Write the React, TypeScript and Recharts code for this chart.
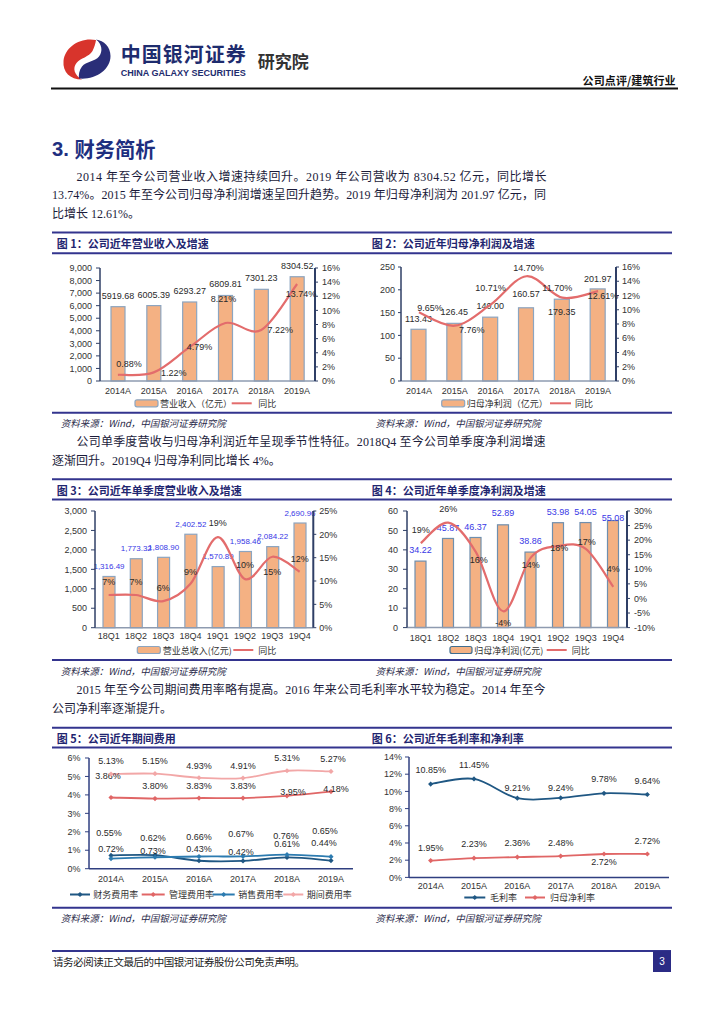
import React from 'react';
import { ComposedChart, Bar, Line, XAxis, YAxis } from 'recharts';

// ---------------- data ----------------
const years = ['2014A', '2015A', '2016A', '2017A', '2018A', '2019A'];
const quarters = ['18Q1', '18Q2', '18Q3', '18Q4', '19Q1', '19Q2', '19Q3', '19Q4'];

const revenue = [5919.68, 6005.39, 6293.27, 6809.81, 7301.23, 8304.52];
const revenueYoy = [0.88, 1.22, 4.79, 8.21, 7.22, 13.74];

const netProfit = [113.43, 126.45, 140.0, 160.57, 179.35, 201.97];
const netProfitYoy = [9.65, 7.76, 10.71, 14.7, 11.7, 12.61];

const qRevenue = [1316.49, 1773.32, 1808.9, 2402.52, 1570.89, 1958.46, 2084.22, 2690.96];
const qRevenueYoy = [7.0, 7.0, 5.7, 9.4, 19.4, 10.4, 15.2, 12.0];

const qProfit = [34.22, 45.87, 46.37, 52.89, 38.86, 53.98, 54.05, 55.08];
const qProfitYoy = [19, 26, 16, -4.4, 14, 18, 17, 4];

const financeRate = [0.72, 0.73, 0.43, 0.42, 0.61, 0.44];
const adminRate = [3.86, 3.8, 3.83, 3.83, 3.95, 4.18];
const salesRate = [0.55, 0.62, 0.66, 0.67, 0.76, 0.65];
const periodRate = [5.13, 5.15, 4.93, 4.91, 5.31, 5.27];

const grossMargin = [10.85, 11.45, 9.21, 9.24, 9.78, 9.64];
const netMargin = [1.95, 2.23, 2.36, 2.48, 2.72, 2.72];

// tick labels
const revTicks = [0, 1000, 2000, 3000, 4000, 5000, 6000, 7000, 8000, 9000];
const pct16Ticks = [0, 2, 4, 6, 8, 10, 12, 14, 16];
const npTicks = [0, 50, 100, 150, 200, 250];
const qRevTicks = [0, 500, 1000, 1500, 2000, 2500, 3000];
const pct25Ticks = [0, 5, 10, 15, 20, 25];
const qpTicks = [0, 10, 20, 30, 40, 50, 60];
const pct30Ticks = [-10, -5, 0, 5, 10, 15, 20, 25, 30];
const rate6Ticks = [0, 1, 2, 3, 4, 5, 6];
const rate14Ticks = [0, 2, 4, 6, 8, 10, 12, 14];

// label placements (dx, dy from the mark)
const c1BarDy = [-11, -11, -11, -11, -11, -11];
const c1LineOff = [[11, -11], [20, 1], [10, 0], [-2, -24], [19, 0], [4, 10]];
const c2BarDy = [-10, -11, -11, -14, 13, -10];
const c2LineOff = [[11, -4], [17, 4], [0, -17], [2, -8], [-5, -10], [5, 5]];
const c3BarDy = [-10, -10, -10, -10, -10, -10, -10, -10];
const c3LineOff = [[0, -13], [0, -13], [0, -13], [0, -12], [0, -14], [0, -14], [0, 15], [0, -13]];
const c4BarDy = [-11, -10, -10, -12, -11, -11, -11, -3];
const c4LineOff = [[0, -13], [0, -14], [3, 8], [0, 12], [0, 7], [1, 2], [1, -7], [0, -18]];
const c5PeriodOff = [[0, -13], [0, -13], [0, -12], [0, -12], [0, -13], [2, -12]];
const c5AdminOff = [[-3, -21], [0, -13], [0, -12], [0, -12], [6, -4], [5, -3]];
const c5SalesOff = [[-2, -26], [-2, -19], [0, -20], [-2, -22], [-1, -19], [-6, -26]];
const c5FinanceOff = [[0, -6], [-2, -4], [0, -12], [-2, -9], [0, -13], [-7, -18]];
const c6GrossOff = [[0, -14], [0, -14], [0, -10], [0, -10], [0, -14], [0, -13]];
const c6NetOff = [[0, -13], [0, -14], [0, -14], [0, -13], [0, 8], [0, -13]];

// ---------------- styles ----------------
const RULE = '#33348E';
const TITLE = '#1F2670';
const BAR_FILL = '#F4B183';
const BAR_STROKE = '#8CA5C0';
const LINE_RED = '#E36C6C';
const AXIS = '#2F3F66';
const XAXIS = '#8E9BB0';
const LABEL_BLUE = '#3838E6';
const TXT = '#2a2a2a';
const FA = "'Liberation Sans', Arial, sans-serif";
const FC = "'Noto Sans CJK SC', sans-serif";
const FB = "'Liberation Serif', 'Noto Sans CJK SC', serif";

const fmtComma = (v: number) => v.toLocaleString('en-US');
const fmt2 = (v: number) => v.toFixed(2);
const fmt2c = (v: number) => v.toLocaleString('en-US', { minimumFractionDigits: 2, maximumFractionDigits: 2 });
const pct = (v: number) => `${v}%`;
const pct2 = (v: number) => `${v.toFixed(2)}%`;
const pct0 = (v: number) => `${Math.round(v)}%`;

// Excel-like smooth line (Catmull-Rom)
function catmullRom(context: any) {
  let pts: number[][] = [];
  return {
    areaStart() {},
    areaEnd() {},
    lineStart() {
      pts = [];
    },
    point(x: number, y: number) {
      pts.push([+x, +y]);
    },
    lineEnd() {
      const n = pts.length;
      if (!n) return;
      context.moveTo(pts[0][0], pts[0][1]);
      for (let i = 0; i < n - 1; i++) {
        const p0 = pts[Math.max(0, i - 1)];
        const p1 = pts[i];
        const p2 = pts[i + 1];
        const p3 = pts[Math.min(n - 1, i + 2)];
        context.bezierCurveTo(
          p1[0] + (p2[0] - p0[0]) / 6,
          p1[1] + (p2[1] - p0[1]) / 6,
          p2[0] - (p3[0] - p1[0]) / 6,
          p2[1] - (p3[1] - p1[1]) / 6,
          p2[0],
          p2[1]
        );
      }
    },
  };
}

type Plot = { x: number; y: number; w: number; h: number };

type DualProps = {
  plot: Plot;
  cats: string[];
  bars: number[];
  yoy: number[];
  leftTicks: number[];
  rightTicks: number[];
  leftFmt: (v: number) => string;
  barFmt: (v: number) => string;
  yoyFmt: (v: number) => string;
  barLabelColor: string;
  barLabelSize: number;
  barDy: number[];
  lineOff: number[][];
  barSize: number;
  barStroke: string;
  lt: number[]; // left tickSize, tickMargin
  rt: number[];
  xOff: number[];
};

function DualChart(p: DualProps) {
  const LW = 60;
  const RW = 50;
  const MT = 18;
  const XH = 22;
  const data = p.cats.map((c, i) => ({ c, b: p.bars[i], g: p.yoy[i] }));
  const barShape = (s: any) => {
    let idx = s.index;
    if (idx === undefined && s.payload) idx = p.cats.indexOf(s.payload.c);
    const v = p.bars[idx];
    return (
      <g>
        <rect x={s.x} y={s.y} width={s.width} height={s.height} fill={BAR_FILL} stroke={p.barStroke} strokeWidth={1.2} />
        <text
          x={s.x + s.width / 2}
          y={s.y + (p.barDy[idx] ?? -10)}
          textAnchor="middle"
          dominantBaseline="central"
          fontSize={p.barLabelSize}
          fontFamily={FA}
          fill={p.barLabelColor}
        >
          {p.barFmt(v)}
        </text>
      </g>
    );
  };
  const dot = (s: any) => {
    const idx = s.index;
    const off = p.lineOff[idx] || [0, -12];
    return (
      <text
        key={`lbl-${idx}`}
        x={s.cx + off[0]}
        y={s.cy + off[1]}
        textAnchor="middle"
        dominantBaseline="central"
        fontSize={9}
        fontFamily={FA}
        fill={TXT}
      >
        {p.yoyFmt(p.yoy[idx])}
      </text>
    );
  };
  const tickStyle = { fontSize: 9, fontFamily: FA, fill: '#333' };
  return (
    <div style={{ position: 'absolute', left: p.plot.x - LW, top: p.plot.y - MT }}>
      <ComposedChart
        width={p.plot.w + LW + RW}
        height={p.plot.h + MT + XH}
        data={data}
        margin={{ top: MT, right: 0, left: 0, bottom: 0 }}
      >
        <XAxis
          dataKey="c"
          height={XH}
          tickLine={false}
          axisLine={{ stroke: XAXIS, strokeWidth: 1.5 }}
          tick={tickStyle}
          tickSize={p.xOff[0]}
          tickMargin={p.xOff[1]}
          interval={0}
        />
        <YAxis
          yAxisId="l"
          width={LW}
          domain={[p.leftTicks[0], p.leftTicks[p.leftTicks.length - 1]]}
          ticks={p.leftTicks}
          tickFormatter={p.leftFmt}
          interval={0}
          axisLine={{ stroke: AXIS, strokeWidth: 1.5 }}
          tickLine={{ stroke: AXIS }}
          tickSize={p.lt[0]}
          tickMargin={p.lt[1]}
          tick={tickStyle}
        />
        <YAxis
          yAxisId="r"
          orientation="right"
          width={RW}
          domain={[p.rightTicks[0], p.rightTicks[p.rightTicks.length - 1]]}
          ticks={p.rightTicks}
          tickFormatter={pct}
          interval={0}
          axisLine={{ stroke: AXIS, strokeWidth: 2 }}
          tickLine={{ stroke: AXIS }}
          tickSize={p.rt[0]}
          tickMargin={p.rt[1]}
          tick={tickStyle}
        />
        <Bar yAxisId="l" dataKey="b" barSize={p.barSize} shape={barShape} isAnimationActive={false} />
        <Line
          yAxisId="r"
          dataKey="g"
          type={catmullRom as any}
          stroke={LINE_RED}
          strokeWidth={2.2}
          dot={dot}
          activeDot={false}
          isAnimationActive={false}
        />
      </ComposedChart>
    </div>
  );
}

type Series = { key: string; values: number[]; color: string; off: number[][] };

function MultiLine(p: {
  plot: Plot;
  cats: string[];
  series: Series[];
  ticks: number[];
  lt: number[];
  xOff: number[];
}) {
  const LW = 50;
  const RW = 20;
  const MT = 18;
  const XH = 22;
  const data = p.cats.map((c, i) => {
    const o: any = { c };
    p.series.forEach((s) => (o[s.key] = s.values[i]));
    return o;
  });
  const tickStyle = { fontSize: 9, fontFamily: FA, fill: '#333' };
  const mkDot = (s: Series) => (d: any) => {
    const idx = d.index;
    const off = s.off[idx] || [0, -12];
    const cx = d.cx;
    const cy = d.cy;
    return (
      <g key={`${s.key}-${idx}`}>
        <path d={`M${cx - 2.6},${cy} L${cx},${cy - 2.6} L${cx + 2.6},${cy} L${cx},${cy + 2.6} Z`} fill={s.color} />
        <text
          x={cx + off[0]}
          y={cy + off[1]}
          textAnchor="middle"
          dominantBaseline="central"
          fontSize={9}
          fontFamily={FA}
          fill={TXT}
        >
          {pct2(s.values[idx])}
        </text>
      </g>
    );
  };
  return (
    <div style={{ position: 'absolute', left: p.plot.x - LW, top: p.plot.y - MT }}>
      <ComposedChart
        width={p.plot.w + LW + RW}
        height={p.plot.h + MT + XH}
        data={data}
        margin={{ top: MT, right: RW, left: 0, bottom: 0 }}
      >
        <XAxis
          dataKey="c"
          scale="band"
          height={XH}
          tickLine={false}
          axisLine={{ stroke: '#2F3F80', strokeWidth: 1.5 }}
          tick={tickStyle}
          tickSize={p.xOff[0]}
          tickMargin={p.xOff[1]}
          interval={0}
        />
        <YAxis
          width={LW}
          domain={[p.ticks[0], p.ticks[p.ticks.length - 1]]}
          ticks={p.ticks}
          tickFormatter={pct}
          interval={0}
          axisLine={{ stroke: '#2F3F80', strokeWidth: 1.5 }}
          tickLine={{ stroke: '#2F3F80' }}
          tickSize={p.lt[0]}
          tickMargin={p.lt[1]}
          tick={tickStyle}
        />
        {p.series.map((s) => (
          <Line
            key={s.key}
            dataKey={s.key}
            type={catmullRom as any}
            stroke={s.color}
            strokeWidth={1.8}
            dot={mkDot(s)}
            activeDot={false}
            isAnimationActive={false}
          />
        ))}
      </ComposedChart>
    </div>
  );
}

// ---------------- page helpers ----------------
function Rule({ y, x1 = 52, x2 = 672, c = RULE, w = 2 }: any) {
  return <line x1={x1} x2={x2} y1={y} y2={y} stroke={c} strokeWidth={w} />;
}

function Txt({ x, y, size, children, fill = '#1b1b3a', family = FB, weight = 400, len, italic, anchor }: any) {
  return (
    <text
      x={x}
      y={y}
      fontSize={size}
      fontFamily={family}
      fontWeight={weight}
      fill={fill}
      dominantBaseline="central"
      textLength={len}
      lengthAdjust={len ? 'spacing' : undefined}
      fontStyle={italic ? 'italic' : undefined}
      textAnchor={anchor}
    >
      {children}
    </text>
  );
}

function LegBar({ x, w, y, stroke, label, tx }: any) {
  return (
    <g>
      <rect x={x} y={y - 3.5} width={w} height={7} rx={2} fill={BAR_FILL} stroke={stroke} strokeWidth={1.2} />
      <Txt x={tx} y={y} size={9} family={FC} fill="#333">{label}</Txt>
    </g>
  );
}

function LegLine({ x, w, y, color, label, tx, marker }: any) {
  const cx = x + w / 2;
  return (
    <g>
      <line x1={x} x2={x + w} y1={y} y2={y} stroke={color} strokeWidth={2} />
      {marker ? (
        <path d={`M${cx - 2.6},${y} L${cx},${y - 2.6} L${cx + 2.6},${y} L${cx},${y + 2.6} Z`} fill={color} />
      ) : null}
      <Txt x={tx} y={y} size={9} family={FC} fill="#333">{label}</Txt>
    </g>
  );
}

const SRC = '资料来源：Wind，中国银河证券研究院';

function PageArt() {
  return (
    <svg width={724} height={1024} style={{ position: 'absolute', left: 0, top: 0 }}>
      {/* logo */}
      <g transform="translate(62,38)">
        <path
          d="M34 2 C18 -1 3 9 1.5 23 C0.5 34 8 41.5 20 41.5 C12 37 10.5 30 14.5 25 C18.5 20 27 19 30.5 13 C32.5 9 33.5 5 34 2 Z"
          fill="#D8342C"
        />
        <path
          d="M17 40.5 C33 42 48.5 32 48.5 18 C48.5 9 42 2.5 34 1.5 C40 6 41 13 37 18.5 C33 23.5 24 23.5 20 28.5 C17 32.5 16.5 37 17 40.5 Z"
          fill="#2A2E78"
        />
      </g>
      <Txt x={120.7} y={53.5} size={20} weight={700} family={FC} fill="#1E2C6E" len={125}>中国银河证券</Txt>
      <text x={120.7} y={72.5} fontSize={9.5} fontWeight={700} fontFamily={FA} fill="#1E2C6E" dominantBaseline="central" textLength={125} lengthAdjust="spacingAndGlyphs">
        CHINA GALAXY SECURITIES
      </text>
      <Txt x={257.7} y={60} size={17} weight={700} family={FC} fill="#333" len={51}>研究院</Txt>
      <Txt x={582.6} y={80} size={11} weight={700} family={FC} fill="#111" len={93}>公司点评/建筑行业</Txt>
      <Rule y={88.5} x1={51} x2={678} c="#111" w={2} />

      {/* section heading */}
      <text x={52} y={148.3} fontSize={21} fontWeight={700} fill="#1E2F80" dominantBaseline="central" textLength={103.5} lengthAdjust="spacingAndGlyphs">
        <tspan fontFamily={FA}>3. </tspan>
        <tspan fontFamily={FC}>财务简析</tspan>
      </text>

      {/* paragraph 1 */}
      <Txt x={76.6} y={176.5} size={12} len={470}>2014 年至今公司营业收入增速持续回升。2019 年公司营收为 8304.52 亿元，同比增长</Txt>
      <Txt x={52} y={195.3} size={12} len={494}>13.74%。2015 年至今公司归母净利润增速呈回升趋势。2019 年归母净利润为 201.97 亿元，同</Txt>
      <Txt x={52} y={213.8} size={12}>比增长 12.61%。</Txt>

      {/* block 1 */}
      <Rule y={232.5} />
      <Txt x={56.7} y={243.3} size={11} weight={700} family={FC} fill={TITLE}>图 1：公司近年营业收入及增速</Txt>
      <Txt x={371.7} y={243.3} size={11} weight={700} family={FC} fill={TITLE}>图 2：公司近年归母净利润及增速</Txt>
      <Rule y={253.3} />
      <LegBar x={135} w={23} y={403.3} stroke={BAR_STROKE} label="营业收入（亿元）" tx={160} />
      <LegLine x={231.7} w={20} y={403.3} color={LINE_RED} label="同比" tx={258.3} />
      <LegBar x={441.7} w={23} y={403.3} stroke={BAR_STROKE} label="归母净利润（亿元）" tx={466.7} />
      <LegLine x={550} w={21} y={403.3} color={LINE_RED} label="同比" tx={575} />
      <Rule y={412.7} />
      <Txt x={60.7} y={422.7} size={9.5} family={FC} fill="#2a2a4a" italic>{SRC}</Txt>
      <Txt x={375.5} y={422.7} size={9.5} family={FC} fill="#2a2a4a" italic>{SRC}</Txt>

      {/* paragraph 2 */}
      <Txt x={76.6} y={441.7} size={12} len={469}>公司单季度营收与归母净利润近年呈现季节性特征。2018Q4 至今公司单季度净利润增速</Txt>
      <Txt x={52} y={460.5} size={12}>逐渐回升。2019Q4 归母净利同比增长 4%。</Txt>

      {/* block 2 */}
      <Rule y={479.3} />
      <Txt x={56.7} y={489.5} size={11} weight={700} family={FC} fill={TITLE}>图 3：公司近年单季度营业收入及增速</Txt>
      <Txt x={371.7} y={489.5} size={11} weight={700} family={FC} fill={TITLE}>图 4：公司近年单季度净利润及增速</Txt>
      <Rule y={499.5} />
      <LegBar x={137.3} w={23} y={650} stroke={BAR_STROKE} label="营业总收入(亿元)" tx={162.7} />
      <LegLine x={233.3} w={20} y={650} color={LINE_RED} label="同比" tx={258.3} />
      <LegBar x={450} w={22} y={650} stroke="#3F6D8F" label="归母净利润(亿元)" tx={474.3} />
      <LegLine x={546.7} w={20} y={650} color={LINE_RED} label="同比" tx={571.7} />
      <Rule y={660} />
      <Txt x={60.7} y={670.7} size={9.5} family={FC} fill="#2a2a4a" italic>{SRC}</Txt>
      <Txt x={375.5} y={670.7} size={9.5} family={FC} fill="#2a2a4a" italic>{SRC}</Txt>

      {/* paragraph 3 */}
      <Txt x={76.6} y={689.5} size={12} len={469}>2015 年至今公司期间费用率略有提高。2016 年来公司毛利率水平较为稳定。2014 年至今</Txt>
      <Txt x={52} y={709} size={12}>公司净利率逐渐提升。</Txt>

      {/* block 3 */}
      <Rule y={727.7} />
      <Txt x={56.7} y={738} size={11} weight={700} family={FC} fill={TITLE}>图 5：公司近年期间费用</Txt>
      <Txt x={371.7} y={738} size={11} weight={700} family={FC} fill={TITLE}>图 6：公司近年毛利率和净利率</Txt>
      <Rule y={747.6} />
      <LegLine x={70} w={20} y={894.5} color="#1F5783" label="财务费用率" tx={93.3} marker />
      <LegLine x={141.7} w={23} y={894.5} color="#E06666" label="管理费用率" tx={169} marker />
      <LegLine x={212.7} w={22} y={894.5} color="#2C7BB0" label="销售费用率" tx={238.3} marker />
      <LegLine x={283.3} w={20} y={894.5} color="#F2A7A7" label="期间费用率" tx={306.7} marker />
      <LegLine x={464.3} w={21} y={897.5} color="#1F5783" label="毛利率" tx={490} marker />
      <LegLine x={525} w={20} y={897.5} color="#E06666" label="归母净利率" tx={550} marker />
      <Rule y={907.7} />
      <Txt x={60.7} y={917.7} size={9.5} family={FC} fill="#2a2a4a" italic>{SRC}</Txt>
      <Txt x={375.5} y={917.7} size={9.5} family={FC} fill="#2a2a4a" italic>{SRC}</Txt>

      {/* footer */}
      <Rule y={951} x1={52} x2={671} />
      <Txt x={53} y={961.5} size={10.5} family={FC} fill="#222" len={252}>请务必阅读正文最后的中国银河证券股份公司免责声明。</Txt>
      <rect x={653} y={951} width={18} height={21} fill="#2B2B85" />
      <Txt x={662} y={961.5} size={10} family={FA} fill="#fff" anchor="middle">3</Txt>
    </svg>
  );
}

export default function App() {
  return (
    <div
      style={{
        position: 'absolute',
        left: 0,
        top: 0,
        width: 724,
        height: 1024,
        background: '#fff',
        overflow: 'hidden',
        fontFamily: FB,
      }}
    >
      <PageArt />
      <DualChart
        plot={{ x: 100, y: 267.7, w: 215, h: 113 }}
        cats={years}
        bars={revenue}
        yoy={revenueYoy}
        leftTicks={revTicks}
        rightTicks={pct16Ticks}
        leftFmt={fmtComma}
        barFmt={fmt2}
        yoyFmt={pct2}
        barLabelColor={TXT}
        barLabelSize={9}
        barDy={c1BarDy}
        lineOff={c1LineOff}
        barSize={14}
        barStroke={BAR_STROKE}
        lt={[4, 4]}
        rt={[3, 4]}
        xOff={[4, 3]}
      />
      <DualChart
        plot={{ x: 400.7, y: 266.7, w: 215, h: 114 }}
        cats={years}
        bars={netProfit}
        yoy={netProfitYoy}
        leftTicks={npTicks}
        rightTicks={pct16Ticks}
        leftFmt={(v: number) => `${v}`}
        barFmt={fmt2}
        yoyFmt={pct2}
        barLabelColor={TXT}
        barLabelSize={9}
        barDy={c2BarDy}
        lineOff={c2LineOff}
        barSize={15}
        barStroke={BAR_STROKE}
        lt={[3, 3]}
        rt={[3, 3]}
        xOff={[4, 3]}
      />
      <DualChart
        plot={{ x: 95, y: 511, w: 218.3, h: 116.7 }}
        cats={quarters}
        bars={qRevenue}
        yoy={qRevenueYoy}
        leftTicks={qRevTicks}
        rightTicks={pct25Ticks}
        leftFmt={fmtComma}
        barFmt={fmt2c}
        yoyFmt={pct0}
        barLabelColor={LABEL_BLUE}
        barLabelSize={8}
        barDy={c3BarDy}
        lineOff={c3LineOff}
        barSize={12}
        barStroke={BAR_STROKE}
        lt={[4, 4]}
        rt={[3, 3]}
        xOff={[3, 2]}
      />
      <DualChart
        plot={{ x: 406.7, y: 510.7, w: 220, h: 116.6 }}
        cats={quarters}
        bars={qProfit}
        yoy={qProfitYoy}
        leftTicks={qpTicks}
        rightTicks={pct30Ticks}
        leftFmt={(v: number) => `${v}`}
        barFmt={fmt2}
        yoyFmt={pct0}
        barLabelColor={LABEL_BLUE}
        barLabelSize={9}
        barDy={c4BarDy}
        lineOff={c4LineOff}
        barSize={11}
        barStroke="#6F8FAE"
        lt={[4, 5]}
        rt={[3, 4]}
        xOff={[4, 3]}
      />
      <MultiLine
        plot={{ x: 89.3, y: 758.3, w: 264, h: 110.7 }}
        cats={years}
        ticks={rate6Ticks}
        lt={[4, 4.5]}
        xOff={[4, 3]}
        series={[
          { key: 'fin', values: financeRate, color: '#1F5783', off: c5FinanceOff },
          { key: 'sal', values: salesRate, color: '#2C7BB0', off: c5SalesOff },
          { key: 'adm', values: adminRate, color: '#E06666', off: c5AdminOff },
          { key: 'per', values: periodRate, color: '#F2A7A7', off: c5PeriodOff },
        ]}
      />
      <MultiLine
        plot={{ x: 409.3, y: 757.3, w: 260, h: 120.4 }}
        cats={years}
        ticks={rate14Ticks}
        lt={[4, 3]}
        xOff={[3, 2]}
        series={[
          { key: 'gm', values: grossMargin, color: '#1F5783', off: c6GrossOff },
          { key: 'nm', values: netMargin, color: '#E06666', off: c6NetOff },
        ]}
      />
    </div>
  );
}
